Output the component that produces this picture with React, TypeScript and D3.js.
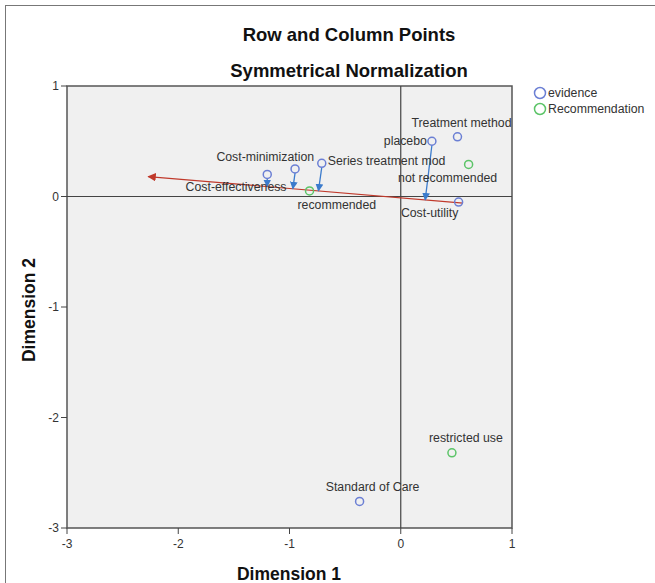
import { useMemo } from 'react';
import * as d3 from 'd3';

// evidence (row) points
const evidenceNames = ['Treatment method', 'placebo', 'Cost-utility', 'Series treatment mod', 'Cost-effectiveness', 'Cost-minimization', 'Standard of Care'];
const evidenceX = [0.51, 0.28, 0.52, -0.71, -0.95, -1.2, -0.37];
const evidenceY = [0.54, 0.5, -0.05, 0.3, 0.25, 0.2, -2.76];

// recommendation (column) points
const recNames = ['not recommended', 'restricted use', 'recommended'];
const recX = [0.61, 0.46, -0.82];
const recY = [0.29, -2.32, 0.05];

// label placement (px offsets from point, text-anchor)
const evidenceLabelDx = [4, -5, -29, 6, -59, -2, 13];
const evidenceLabelDy = [-10, 4, 15, 2, 22, -13, -10];
const evidenceLabelAnchor = ['middle', 'end', 'middle', 'start', 'middle', 'middle', 'middle'];
const recLabelDx = [-21, 14, -12];
const recLabelDy = [18, -11, 18];
const recLabelAnchor = ['middle', 'middle', 'start'];

// red direction vector
const vectorFrom: [number, number] = [0.56, -0.06];
const vectorTo: [number, number] = [-2.27, 0.18];

// blue projection arrows: source point index -> x on the red vector
const arrowSource = [1, 3, 4, 5];
const arrowTargetX = [0.22, -0.74, -0.97, -1.2];

const xTicks = [-3, -2, -1, 0, 1];
const yTicks = [1, 0, -1, -2, -3];

const W = 655;
const H = 583;
const M = { left: 67, right: 512, top: 86, bottom: 528 };
const FONT = '"Liberation Sans", Arial, sans-serif';
const BLUE = '#6b7fd4';
const GREEN = '#5cc468';
const ARROW_BLUE = '#3b7bcc';
const RED = '#c0392b';
const LABEL = 12.3;

export default function App() {
  const x = useMemo(() => d3.scaleLinear().domain([-3, 1]).range([M.left, M.right]), []);
  const y = useMemo(() => d3.scaleLinear().domain([-3, 1]).range([M.bottom, M.top]), []);

  const slope = (vectorTo[1] - vectorFrom[1]) / (vectorTo[0] - vectorFrom[0]);
  const onVector = (vx: number) => vectorFrom[1] + (vx - vectorFrom[0]) * slope;

  return (
    <svg width={W} height={H} style={{ position: 'absolute', left: 0, top: 0 }} fontFamily={FONT}>
      <defs>
        <marker id="headBlue" viewBox="0 0 10 10" refX="9" refY="5" markerWidth="6" markerHeight="6" orient="auto">
          <path d="M0,0 L10,5 L0,10 z" fill={ARROW_BLUE} />
        </marker>
        <marker id="headRed" viewBox="0 0 10 10" refX="9" refY="5" markerWidth="7" markerHeight="7" orient="auto">
          <path d="M0,0 L10,5 L0,10 z" fill={RED} />
        </marker>
      </defs>
      <rect width={W} height={H} fill="#fff" />
      <rect x={5.5} y={5.5} width={W + 20} height={H + 20} fill="none" stroke="#777" strokeWidth={1} />

      <text x={349} y={41} textAnchor="middle" fontSize={18.5} fontWeight="bold" fill="#111">Row and Column Points</text>
      <text x={349} y={77} textAnchor="middle" fontSize={18.5} fontWeight="bold" fill="#111">Symmetrical Normalization</text>

      {/* plot area */}
      <rect x={M.left} y={M.top} width={M.right - M.left} height={M.bottom - M.top} fill="#f0f0f0" stroke="#555" strokeWidth={1.5} />
      <line x1={x(0)} x2={x(0)} y1={M.top} y2={M.bottom} stroke="#444" strokeWidth={1.2} />
      <line x1={M.left} x2={M.right} y1={y(0)} y2={y(0)} stroke="#444" strokeWidth={1.2} />

      {/* axes */}
      {xTicks.map(t => (
        <g key={'x' + t}>
          <line x1={x(t)} x2={x(t)} y1={M.bottom} y2={M.bottom + 6} stroke="#444" />
          <text x={x(t)} y={M.bottom + 20} textAnchor="middle" fontSize={12} fill="#333">{t}</text>
        </g>
      ))}
      {yTicks.map(t => (
        <g key={'y' + t}>
          <line x1={M.left - 6} x2={M.left} y1={y(t)} y2={y(t)} stroke="#444" />
          <text x={M.left - 8} y={y(t) + 4} textAnchor="end" fontSize={12} fill="#333">{t}</text>
        </g>
      ))}
      <text x={289} y={580} textAnchor="middle" fontSize={17.5} fontWeight="bold" fill="#111">Dimension 1</text>
      <text transform="translate(35,310) rotate(-90)" textAnchor="middle" fontSize={17.5} fontWeight="bold" fill="#111">Dimension 2</text>

      {/* red vector */}
      <line
        x1={x(vectorFrom[0])} y1={y(vectorFrom[1])}
        x2={x(vectorTo[0])} y2={y(vectorTo[1])}
        stroke={RED} strokeWidth={1.2} markerEnd="url(#headRed)"
      />

      {/* blue projection arrows */}
      {arrowSource.map((src, i) => (
        <line
          key={'a' + i}
          x1={x(evidenceX[src])} y1={y(evidenceY[src]) + 4}
          x2={x(arrowTargetX[i])} y2={y(onVector(arrowTargetX[i]))}
          stroke={ARROW_BLUE} strokeWidth={1.3} markerEnd="url(#headBlue)"
        />
      ))}

      {/* labels */}
      {evidenceNames.map((n, i) => (
        <text key={'el' + i} x={x(evidenceX[i]) + evidenceLabelDx[i]} y={y(evidenceY[i]) + evidenceLabelDy[i]}
          textAnchor={evidenceLabelAnchor[i]} fontSize={LABEL} fill="#333">{n}</text>
      ))}
      {recNames.map((n, i) => (
        <text key={'rl' + i} x={x(recX[i]) + recLabelDx[i]} y={y(recY[i]) + recLabelDy[i]}
          textAnchor={recLabelAnchor[i]} fontSize={LABEL} fill="#333">{n}</text>
      ))}

      {/* points */}
      {evidenceNames.map((n, i) => (
        <circle key={'e' + i} cx={x(evidenceX[i])} cy={y(evidenceY[i])} r={4} fill="none" stroke={BLUE} strokeWidth={1.5} />
      ))}
      {recNames.map((n, i) => (
        <circle key={'r' + i} cx={x(recX[i])} cy={y(recY[i])} r={4} fill="none" stroke={GREEN} strokeWidth={1.5} />
      ))}

      {/* legend */}
      <circle cx={540} cy={93} r={5.5} fill="none" stroke={BLUE} strokeWidth={1.5} />
      <text x={548} y={97} fontSize={LABEL} fill="#333">evidence</text>
      <circle cx={540} cy={109} r={5.5} fill="none" stroke={GREEN} strokeWidth={1.5} />
      <text x={548} y={113} fontSize={LABEL} fill="#333">Recommendation</text>
    </svg>
  );
}
